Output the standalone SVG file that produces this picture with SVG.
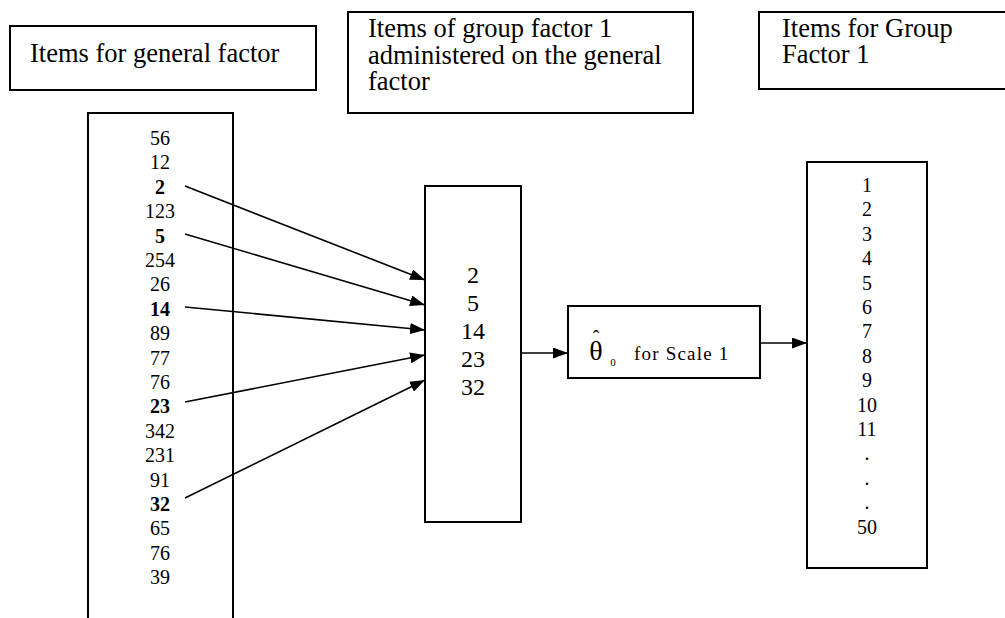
<svg xmlns="http://www.w3.org/2000/svg" width="1005" height="618" viewBox="0 0 1005 618">
  <style>
    .box { fill: #ffffff; stroke: #000000; stroke-width: 2; }
    .serif { font-family: "Liberation Serif", "Times New Roman", serif; fill: #000000; }
    .lbl { font-size: 26.5px; }
    .num { font-size: 20px; text-anchor: middle; }
    .big { font-size: 24px; text-anchor: middle; }
    .b { font-weight: bold; }
    .conn { stroke: #000000; stroke-width: 1.6; fill: none; marker-end: url(#tip); }
  </style>
  <defs>
    <marker id="tip" viewBox="0 0 15 11" refX="15" refY="5.5" markerWidth="15" markerHeight="11" markerUnits="userSpaceOnUse" orient="auto">
      <path d="M0,0 L15,5.5 L0,11 Z" fill="#000000"/>
    </marker>
  </defs>

  <rect width="1005" height="618" fill="#ffffff"/>

  <!-- heading boxes -->
  <g id="label-general">
    <rect class="box" x="10" y="26" width="306" height="64"/>
    <text class="serif lbl" x="30" y="62">Items for general factor</text>
  </g>

  <g id="label-group-on-general">
    <rect class="box" x="348" y="12" width="345" height="101"/>
    <text class="serif lbl" x="368" y="37">Items of group factor 1<tspan x="368" dy="26.5">administered on the general</tspan><tspan x="368" dy="26.5">factor</tspan></text>
  </g>

  <g id="label-group">
    <rect class="box" x="759" y="12" width="260" height="77"/>
    <text class="serif lbl" x="782" y="37">Items for Group<tspan x="782" dy="26">Factor 1</tspan></text>
  </g>

  <!-- general factor item list (runs off the bottom edge) -->
  <g id="general-items">
    <rect class="box" x="88" y="113" width="145" height="520"/>
    <text class="serif num" x="160" y="145">56</text>
    <text class="serif num" x="160" y="169.4">12</text>
    <text class="serif num b" x="160" y="193.8">2</text>
    <text class="serif num" x="160" y="218.2">123</text>
    <text class="serif num b" x="160" y="242.6">5</text>
    <text class="serif num" x="160" y="267">254</text>
    <text class="serif num" x="160" y="291.4">26</text>
    <text class="serif num b" x="160" y="315.8">14</text>
    <text class="serif num" x="160" y="340.2">89</text>
    <text class="serif num" x="160" y="364.6">77</text>
    <text class="serif num" x="160" y="389">76</text>
    <text class="serif num b" x="160" y="413.4">23</text>
    <text class="serif num" x="160" y="437.8">342</text>
    <text class="serif num" x="160" y="462.2">231</text>
    <text class="serif num" x="160" y="486.6">91</text>
    <text class="serif num b" x="160" y="511">32</text>
    <text class="serif num" x="160" y="535.4">65</text>
    <text class="serif num" x="160" y="559.8">76</text>
    <text class="serif num" x="160" y="584.2">39</text>
  </g>

  <!-- selected group items -->
  <g id="selected-items">
    <rect class="box" x="425" y="186" width="96" height="336"/>
    <text class="serif big" x="473" y="283">2</text>
    <text class="serif big" x="473" y="311">5</text>
    <text class="serif big" x="473" y="339">14</text>
    <text class="serif big" x="473" y="367">23</text>
    <text class="serif big" x="473" y="395">32</text>
  </g>

  <!-- ability estimate: theta-hat with subscript 0 -->
  <g id="theta-estimate">
    <rect class="box" x="568" y="306" width="192" height="72"/>
    <text class="serif" x="596" y="360" font-size="28" text-anchor="middle">θ<tspan x="596" y="345" font-size="20">ˆ</tspan></text>
    <text class="serif" x="613" y="366" font-size="11" text-anchor="middle">0</text>
    <text class="serif" x="634" y="360" font-size="19" letter-spacing="1.2">for Scale 1</text>
  </g>

  <!-- group factor item list -->
  <g id="group-items">
    <rect class="box" x="807" y="162" width="120" height="406"/>
    <text class="serif num" x="867" y="192">1</text>
    <text class="serif num" x="867" y="216.4">2</text>
    <text class="serif num" x="867" y="240.8">3</text>
    <text class="serif num" x="867" y="265.2">4</text>
    <text class="serif num" x="867" y="289.6">5</text>
    <text class="serif num" x="867" y="314">6</text>
    <text class="serif num" x="867" y="338.4">7</text>
    <text class="serif num" x="867" y="362.8">8</text>
    <text class="serif num" x="867" y="387.2">9</text>
    <text class="serif num" x="867" y="411.6">10</text>
    <text class="serif num" x="867" y="436">11</text>
    <text class="serif num" x="867" y="460.4">.</text>
    <text class="serif num" x="867" y="484.8">.</text>
    <text class="serif num" x="867" y="509.2">.</text>
    <text class="serif num" x="867" y="533.6">50</text>
  </g>

  <!-- connectors -->
  <g id="connectors">
    <line class="conn" x1="185" y1="186" x2="425" y2="280"/>
    <line class="conn" x1="185" y1="234" x2="425" y2="305"/>
    <line class="conn" x1="185" y1="307" x2="425" y2="330"/>
    <line class="conn" x1="185" y1="402" x2="425" y2="355"/>
    <line class="conn" x1="185" y1="498" x2="425" y2="380"/>
    <line class="conn" x1="521" y1="353" x2="568" y2="353"/>
    <line class="conn" x1="760" y1="343" x2="807" y2="343"/>
  </g>
</svg>
